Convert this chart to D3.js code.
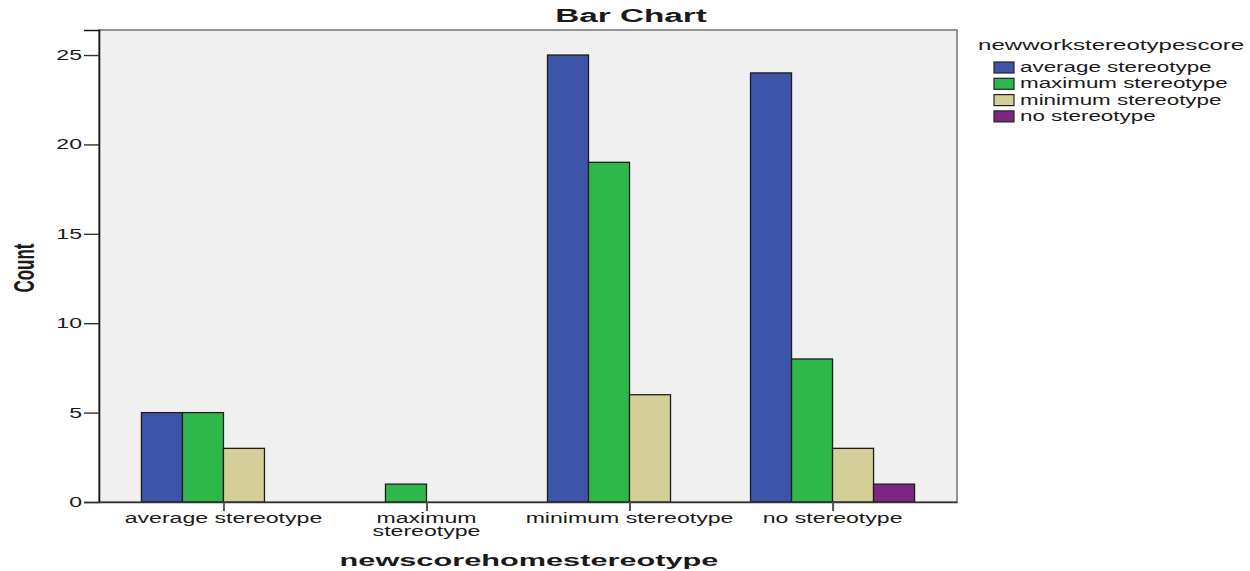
<!DOCTYPE html>
<html>
<head>
<meta charset="utf-8">
<script src="https://cdn.jsdelivr.net/npm/d3@7"></script>
<style>
body { margin: 0; background: #fff; }
text { font-family: "Liberation Sans", Arial, sans-serif; fill: #1a1a1a; }
</style>
</head>
<body>
<script>
var width = 1250;
var height = 571;

// data
var categories = ["average stereotype", "maximum stereotype", "minimum stereotype", "no stereotype"];
var series = ["average stereotype", "maximum stereotype", "minimum stereotype", "no stereotype"];
var avg_vals = [5, 0, 25, 24];
var max_vals = [5, 1, 19, 8];
var min_vals = [3, 0, 6, 3];
var none_vals = [0, 0, 0, 1];
var y_ticks = [0, 5, 10, 15, 20, 25];
var colors = ["#3d55a9", "#2fb84a", "#d4ce97", "#7c2681"];

var plot_l = 99, plot_r = 957, plot_t = 30, plot_b = 502;
var stretch = 1.65;

var svg = d3.select("body")
    .append("svg")
    .attr("width", width)
    .attr("height", height);

function label(x, y, str, size, weight, anchor, sx) {
    return svg.append("text")
        .attr("transform", "translate(" + x + "," + y + ") scale(" + sx + ",1)")
        .attr("text-anchor", anchor)
        .attr("font-size", size + "px")
        .attr("font-weight", weight)
        .text(str);
}

var rows = [];
categories.forEach(function(c, i) {
    [avg_vals, max_vals, min_vals, none_vals].forEach(function(vals, j) {
        rows.push({ cat: c, ser: series[j], value: vals[i], idx: j });
    });
});

var x = d3.scalePoint()
    .domain(categories)
    .range([plot_l, plot_r])
    .padding(0.613);

var bw = x.step() * 0.202;
var x1 = d3.scaleBand()
    .domain(series)
    .range([-2 * bw, 2 * bw]);

var y = d3.scaleLinear()
    .domain([0, 26.4])
    .range([plot_b, plot_t]);

// plot background
svg.append("rect")
    .attr("x", plot_l)
    .attr("y", plot_t)
    .attr("width", plot_r - plot_l)
    .attr("height", plot_b - plot_t)
    .attr("fill", "#f0f0f0")
    .attr("stroke", "#7a7a7a")
    .attr("stroke-width", 1.6);

// bars (zero counts are not drawn)
svg.selectAll("rect.bar")
    .data(rows.filter(function(d) { return d.value > 0; }))
    .enter()
    .append("rect")
    .attr("class", "bar")
    .attr("x", function(d) { return x(d.cat) + x1(d.ser); })
    .attr("y", function(d) { return y(d.value); })
    .attr("width", x1.bandwidth())
    .attr("height", function(d) { return y(0) - y(d.value); })
    .attr("fill", function(d) { return colors[d.idx]; })
    .attr("stroke", "#1e1e1e")
    .attr("stroke-width", 1.3);

// y axis
var yAxis = svg.append("g")
    .attr("transform", "translate(" + plot_l + ",0)")
    .call(d3.axisLeft(y).tickValues(y_ticks).tickSize(15).tickPadding(2).tickFormat(d3.format("d")));
yAxis.select(".domain").attr("stroke", "#1a1a1a").attr("stroke-width", 1.6);
yAxis.selectAll(".tick line").attr("stroke", "#333").attr("stroke-width", 1.4);
yAxis.selectAll(".tick text")
    .attr("font-family", "Liberation Sans, Arial, sans-serif")
    .attr("font-size", "14px")
    .attr("fill", "#333")
    .attr("x", -17 / stretch)
    .attr("transform", "scale(" + stretch + ",1)");

// x axis
var xAxis = svg.append("g")
    .attr("transform", "translate(0," + plot_b + ")")
    .call(d3.axisBottom(x).tickSize(9).tickSizeOuter(0).tickFormat(""));
xAxis.select(".domain").attr("stroke", "#333").attr("stroke-width", 1.4);
xAxis.selectAll(".tick line").attr("stroke", "#555").attr("stroke-width", 2);

// category labels (long ones wrap)
categories.forEach(function(c) {
    var lines = c === "maximum stereotype" ? ["maximum", "stereotype"] : [c];
    lines.forEach(function(ln, k) {
        label(x(c), 523 + k * 13, ln, 14, "normal", "middle", stretch).attr("fill", "#222");
    });
});

// titles
label(631, 22, "Bar Chart", 18, "bold", "middle", 1.85);
label(529, 566, "newscorehomestereotype", 16, "bold", "middle", 1.92);
svg.append("text")
    .attr("transform", "translate(34,268) scale(1.7,1) rotate(-90)")
    .attr("text-anchor", "middle")
    .attr("font-size", "17px")
    .attr("font-weight", "bold")
    .text("Count");

// legend
label(978, 50, "newworkstereotypescore", 14, "normal", "start", 1.72);
var leg = svg.selectAll("g.leg")
    .data(series)
    .enter()
    .append("g")
    .attr("class", "leg")
    .attr("transform", function(d, i) { return "translate(994," + (62 + i * 16.3) + ")"; });
leg.append("rect")
    .attr("width", 20)
    .attr("height", 11)
    .attr("fill", function(d, i) { return colors[i]; })
    .attr("stroke", "#222")
    .attr("stroke-width", 1.2);
leg.append("text")
    .attr("transform", "translate(26,10) scale(1.6,1)")
    .attr("font-size", "14px")
    .text(function(d) { return d; });
</script>
</body>
</html>
